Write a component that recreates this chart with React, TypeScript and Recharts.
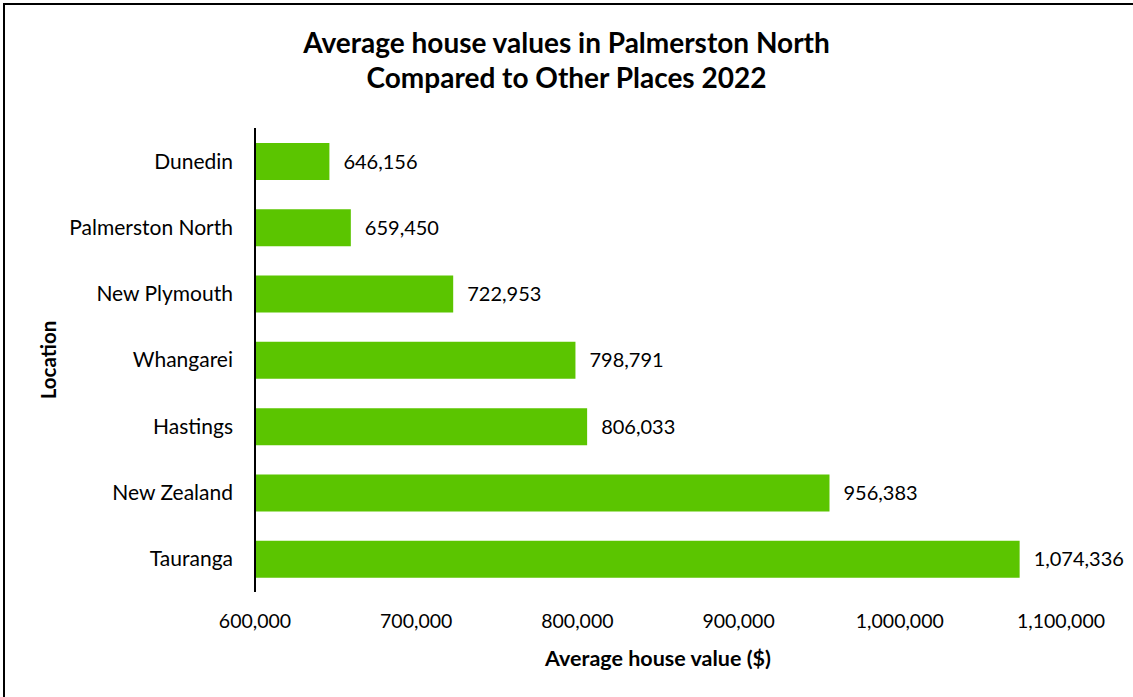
import React from "react";
import { BarChart, Bar, XAxis, YAxis, LabelList, Label } from "recharts";

const locations = [
  "Dunedin",
  "Palmerston North",
  "New Plymouth",
  "Whangarei",
  "Hastings",
  "New Zealand",
  "Tauranga",
];
const values = [646156, 659450, 722953, 798791, 806033, 956383, 1074336];
const xTicks = [600000, 700000, 800000, 900000, 1000000, 1100000];
const titleLines = [
  "Average house values in Palmerston North",
  "Compared to Other Places 2022",
];

const data = locations.map((name, i) => ({ name, value: values[i] }));

const FONT = "Lato, 'Open Sans', sans-serif";
const fmt = (v: number) => v.toLocaleString("en-US");

export default function App() {
  return (
    <div
      style={{
        position: "fixed",
        left: 0,
        top: 0,
        width: 1133,
        height: 697,
        background: "#fff",
        fontFamily: FONT,
      }}
    >
      <div
        style={{
          position: "absolute",
          left: 3,
          top: 3,
          width: 1130,
          height: 2,
          background: "#000",
        }}
      />
      <div
        style={{
          position: "absolute",
          left: 3,
          top: 3,
          width: 2,
          height: 694,
          background: "#000",
        }}
      />
      <div
        style={{
          position: "absolute",
          left: 0,
          top: 25,
          width: 1133,
          textAlign: "center",
          fontWeight: 700,
          fontSize: 28,
          lineHeight: "35px",
          color: "#000",
        }}
      >
        {titleLines.map((t) => (
          <div key={t}>{t}</div>
        ))}
      </div>
      <div style={{ position: "absolute", left: 0, top: 0 }}>
        <BarChart
          width={1133}
          height={697}
          data={data}
          layout="vertical"
          margin={{ top: 128, right: 72, bottom: 0, left: 0 }}
        >
          <XAxis
            type="number"
            domain={[600000, 1100000]}
            ticks={xTicks}
            tickFormatter={fmt}
            axisLine={false}
            tickLine={false}
            tickMargin={16}
            height={105}
            tick={{ fill: "#000", fontSize: 19.5, fontFamily: FONT }}
          >
            <Label
              value="Average house value ($)"
              position="insideBottom"
              offset={31}
              style={{ fill: "#000", fontSize: 21.5, fontWeight: 700, fontFamily: FONT }}
            />
          </XAxis>
          <YAxis
            type="category"
            dataKey="name"
            width={255}
            axisLine={{ stroke: "#000", strokeWidth: 2 }}
            tickLine={false}
            tickMargin={16}
            tick={{ fill: "#000", fontSize: 21, fontFamily: FONT }}
          >
            <Label
              value="Location"
              angle={-90}
              position="insideLeft"
              offset={49}
              style={{
                fill: "#000",
                fontSize: 20.5,
                fontWeight: 700,
                fontFamily: FONT,
                textAnchor: "middle",
              }}
            />
          </YAxis>
          <Bar dataKey="value" fill="#5BC500" barSize={37} isAnimationActive={false}>
            <LabelList
              dataKey="value"
              position="right"
              offset={14}
              formatter={(v: any) => fmt(Number(v))}
              style={{ fill: "#000", fontSize: 20, fontFamily: FONT }}
            />
          </Bar>
        </BarChart>
      </div>
    </div>
  );
}
